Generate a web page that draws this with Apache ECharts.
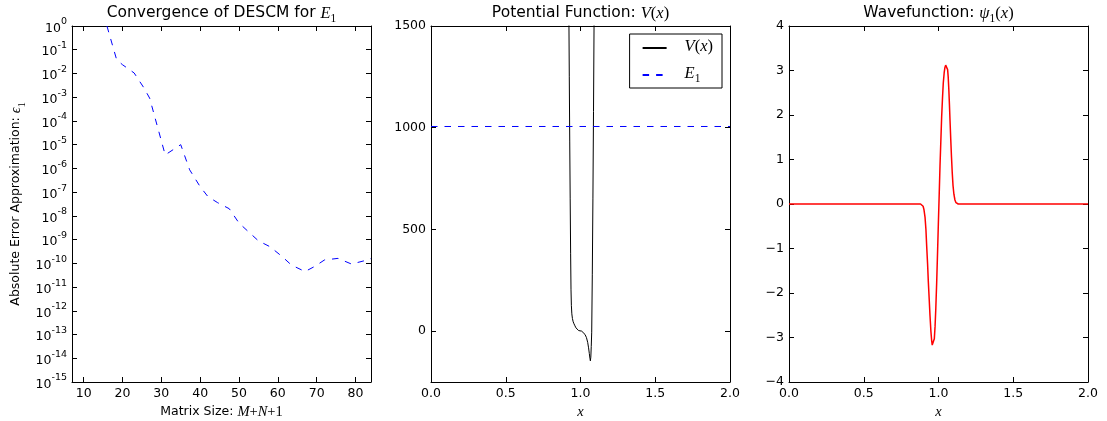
<!DOCTYPE html>
<html><head><meta charset="utf-8">
<script src="https://cdn.jsdelivr.net/npm/echarts@6/dist/echarts.min.js"></script>
<style>html,body{margin:0;padding:0;background:#fff}#c{width:1107px;height:421px}</style>
</head><body><div id="c"></div>
<script>
// ---- Panel 1: convergence of DESCM ----
const errX = [16, 18.5, 20, 23, 25.5, 27, 31, 35, 37.3, 40, 42, 44.5, 47.5, 50, 52.5, 55, 58, 61, 63.5, 67, 69.5, 72, 75.5, 79, 83, 84];
const errY = [1, 3.8e-2, 2.34e-2, 1.05e-2, 2.5e-3, 9.1e-4, 3.7e-6, 1.0e-5, 8.7e-7, 1.7e-7, 6.5e-8, 3.6e-8, 2.0e-8, 5.0e-9, 2.1e-9, 8.9e-10, 5.0e-10, 2.0e-10, 8.5e-11, 4.5e-11, 7.4e-11, 1.38e-10, 1.62e-10, 9.3e-11, 1.38e-10, 1.6e-10];
const errXTicks = [10, 20, 30, 40, 50, 60, 70, 80];

// ---- Panel 2: potential ----
const potX = [0, 0.90, 0.921, 0.925, 0.928, 0.931, 0.934, 0.9365, 0.939, 0.942, 0.946, 0.951, 0.9565, 0.963, 0.970, 0.978, 0.987, 0.997, 1.008, 1.020, 1.030, 1.040, 1.048, 1.054, 1.059, 1.063, 1.066, 1.069, 1.072, 1.075, 1.079, 1.083, 1.087, 1.091, 1.10, 2.0];
const potY = [5000, 3000, 1700, 1250, 930, 650, 380, 203, 125, 85, 62, 46, 36, 26, 16, 8, 3, 1, 0, -6, -16, -32, -55, -82, -110, -133, -146, -128, -75, -5, 280, 650, 1080, 1550, 3000, 5000];
const energyE1 = 1006;
const potYTicks = [0, 500, 1000, 1500];

// ---- Panel 3: wavefunction ----
const psiX = [0, 0.880, 0.890, 0.897, 0.903, 0.910, 0.916, 0.921, 0.927, 0.932, 0.938, 0.943, 0.949, 0.954, 0.958, 0.962, 0.965, 0.968, 0.972, 0.977, 0.982, 0.988, 0.994, 0.999, 1.005, 1.010, 1.016, 1.021, 1.027, 1.032, 1.038, 1.043, 1.048, 1.053, 1.057, 1.061, 1.065, 1.069, 1.073, 1.077, 1.082, 1.087, 1.092, 1.097, 1.103, 1.110, 1.117, 1.124, 1.132, 1.140, 2.0];
const psiY = [0, 0, -0.01, -0.05, -0.13, -0.30, -0.58, -0.95, -1.35, -1.75, -2.15, -2.50, -2.85, -3.06, -3.17, -3.21, -3.21, -3.17, -3.03, -2.75, -2.35, -1.75, -1.05, -0.45, 0.25, 0.85, 1.45, 1.95, 2.40, 2.72, 2.95, 3.07, 3.12, 3.13, 3.10, 3.02, 2.85, 2.58, 2.25, 1.88, 1.45, 1.05, 0.70, 0.42, 0.22, 0.09, 0.03, 0.01, 0, 0, 0];

const SANS = 'DejaVu Sans';
const SERIF = 'Liberation Serif';
const FS = 12.5;
const rich = {
  n: {fontFamily: SANS, fontSize: FS, color: '#000', lineHeight: 18, verticalAlign: 'top'},
  t: {fontFamily: SANS, fontSize: 15.5, color: '#000', lineHeight: 20, verticalAlign: 'top'},
  m: {fontFamily: SERIF, fontStyle: 'italic', fontSize: 16.5, color: '#000', lineHeight: 20, verticalAlign: 'top'},
  mr: {fontFamily: SERIF, fontSize: 16.5, color: '#000', lineHeight: 20, verticalAlign: 'top'},
  sub: {fontFamily: SERIF, fontSize: 11.5, color: '#000', lineHeight: 13, verticalAlign: 'bottom'},
  ms: {fontFamily: SERIF, fontStyle: 'italic', fontSize: 14.5, color: '#000', lineHeight: 18, verticalAlign: 'top'},
  msr: {fontFamily: SERIF, fontSize: 14.5, color: '#000', lineHeight: 18, verticalAlign: 'top'},
  ssub: {fontFamily: SERIF, fontSize: 10, color: '#000', lineHeight: 12, verticalAlign: 'bottom'}
};

const grids = [
  {left: 72, top: 26, width: 299, height: 356, outerBoundsMode: 'none', containLabel: false},
  {left: 431, top: 26, width: 299, height: 356, outerBoundsMode: 'none', containLabel: false},
  {left: 789, top: 26, width: 299, height: 356, outerBoundsMode: 'none', containLabel: false}
];

const tick = {show: true, inside: true, length: 5, lineStyle: {color: '#000', width: 1}};
const line = {show: true, onZero: false, lineStyle: {color: '#000', width: 1}};
const lbl = {color: '#000', fontFamily: SANS, fontSize: FS, margin: 5};

function mirrorX(base, gi) {
  return Object.assign({}, base, {gridIndex: gi, position: 'top', name: '', axisLabel: Object.assign({}, base.axisLabel, {show: false})});
}
function mirrorY(base, gi) {
  return Object.assign({}, base, {gridIndex: gi, position: 'right', name: '', axisLabel: Object.assign({}, base.axisLabel, {show: false})});
}

const x0 = {type: 'value', gridIndex: 0, min: 7, max: 84, position: 'bottom',
  axisLine: line, splitLine: {show: false},
  axisTick: Object.assign({}, tick, {customValues: errXTicks}),
  axisLabel: Object.assign({}, lbl, {customValues: errXTicks}),
  name: '{n|Matrix Size: }{ms|M}{msr|+}{ms|N}{msr|+1}', nameLocation: 'middle', nameGap: 21,
  nameTextStyle: {rich: rich}};
const x1 = {type: 'value', gridIndex: 1, min: 0, max: 2, interval: 0.5, position: 'bottom',
  axisLine: line, splitLine: {show: false}, axisTick: tick,
  axisLabel: Object.assign({}, lbl, {formatter: v => v.toFixed(1)}),
  name: '{ms|x}', nameLocation: 'middle', nameGap: 22, nameTextStyle: {rich: rich}};
const x2 = Object.assign({}, x1, {gridIndex: 2});

const y0 = {type: 'log', logBase: 10, gridIndex: 0, min: 1e-15, max: 1, interval: 1, position: 'left',
  axisLine: line, splitLine: {show: false}, axisTick: tick, minorTick: {show: false},
  axisLabel: Object.assign({}, lbl, {
    formatter: v => '{b|10}{e|' + Math.round(Math.log10(v)) + '}',
    rich: {
      b: {fontFamily: SANS, fontSize: FS, color: '#000', lineHeight: 18, verticalAlign: 'bottom'},
      e: {fontFamily: SANS, fontSize: 9.5, color: '#000', lineHeight: 12, verticalAlign: 'top'}
    }
  }),
  name: '{n|Absolute Error Approximation: }{ms|ϵ}{ssub|1}', nameLocation: 'middle', nameGap: 45,
  nameTextStyle: {rich: rich}};
const y1 = {type: 'value', gridIndex: 1, min: -250, max: 1500, position: 'left',
  axisLine: line, splitLine: {show: false},
  axisTick: Object.assign({}, tick, {customValues: potYTicks}),
  axisLabel: Object.assign({}, lbl, {customValues: potYTicks, formatter: v => String(v)})};
const y2 = {type: 'value', gridIndex: 2, min: -4, max: 4, interval: 1, position: 'left',
  axisLine: line, splitLine: {show: false}, axisTick: tick,
  axisLabel: Object.assign({}, lbl, {formatter: v => String(v).replace('-', '\u2212')})};

const zip = (a, b) => a.map((x, i) => [x, b[i]]);
const DASH = [6.5, 7];

const option = {
  animation: false,
  backgroundColor: '#fff',
  grid: grids,
  xAxis: [x0, mirrorX(x0, 0), x1, mirrorX(x1, 1), x2, mirrorX(x2, 2)],
  yAxis: [y0, mirrorY(y0, 0), y1, mirrorY(y1, 1), y2, mirrorY(y2, 2)],
  legend: {
    data: ['V(x)', 'E₁'], orient: 'vertical', right: 385, top: 34,
    backgroundColor: '#fff', borderColor: '#000', borderWidth: 1, borderRadius: 0,
    padding: [4, 9, 3, 12], itemWidth: 24, itemHeight: 14, itemGap: 10,
    itemStyle: {opacity: 0},
    formatter: name => name === 'V(x)' ? '{m|V}{mr|(}{m|x}{mr|)}' : '{m|E}{sub|1}',
    textStyle: {padding: [0, 0, 0, 13], rich: rich}
  },
  graphic: [
    {type: 'text', x: 221.5, y: 15, style: {text: '{t|Convergence of DESCM for }{m|E}{sub|1}', rich: rich, align: 'center', verticalAlign: 'middle'}},
    {type: 'text', x: 580.5, y: 15, style: {text: '{t|Potential Function: }{m|V}{mr|(}{m|x}{mr|)}', rich: rich, align: 'center', verticalAlign: 'middle'}},
    {type: 'text', x: 938.5, y: 15, style: {text: '{t|Wavefunction: }{m|ψ}{sub|1}{mr|(}{m|x}{mr|)}', rich: rich, align: 'center', verticalAlign: 'middle'}}
  ],
  series: [
    {name: 'err', type: 'line', xAxisIndex: 0, yAxisIndex: 0, data: zip(errX, errY), symbol: 'none',
      lineStyle: {color: '#0000ff', width: 1, type: DASH}, clip: true},
    {name: 'V(x)', type: 'line', xAxisIndex: 2, yAxisIndex: 2, data: zip(potX, potY), symbol: 'none',
      color: '#000', lineStyle: {color: '#000', width: 1}, clip: true},
    {name: 'E₁', type: 'line', xAxisIndex: 2, yAxisIndex: 2, data: [[0, energyE1], [2, energyE1]], symbol: 'none',
      color: '#0000ff', lineStyle: {color: '#0000ff', width: 1, type: DASH}, clip: true},
    {name: 'psi', type: 'line', xAxisIndex: 4, yAxisIndex: 4, data: zip(psiX, psiY), symbol: 'none',
      lineStyle: {color: '#ff0000', width: 1.5}, clip: true}
  ]
};
const chart = echarts.init(document.getElementById('c'), null, {renderer: 'canvas'});
chart.setOption(option);
</script></body></html>
